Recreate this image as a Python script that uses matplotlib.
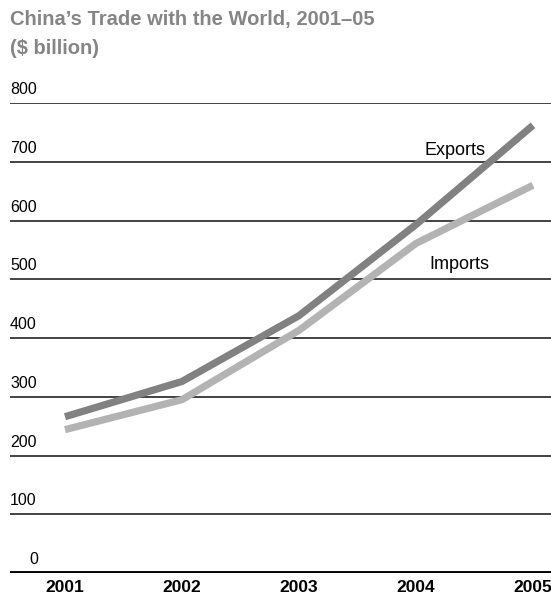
import matplotlib.pyplot as plt
from matplotlib.transforms import blended_transform_factory

years = [2001, 2002, 2003, 2004, 2005]
exports = [266, 326, 438, 593, 762]
imports = [244, 295, 413, 561, 660]
y_ticks = [0, 100, 200, 300, 400, 500, 600, 700, 800]

FONT = ['Liberation Sans Narrow', 'Liberation Sans', 'DejaVu Sans']
plt.rcParams['font.family'] = FONT

fig = plt.figure(figsize=(5.51, 5.95), dpi=100)
ax = fig.add_axes([10 / 551, 22 / 595, 541 / 551, 470 / 595])

ax.set_xlim(2000.53, 2005.154)
ax.set_ylim(0, 800)

for v in y_ticks[1:]:
    ax.axhline(v, color='#222222', lw=1.2, zorder=1)
ax.axhline(0, color='black', lw=2.8, zorder=1)

ax.plot(years, exports, color='#818181', lw=5.2, solid_capstyle='butt', zorder=3)
ax.plot(years, imports, color='#b3b3b3', lw=5.2, solid_capstyle='butt', zorder=3)

trans = blended_transform_factory(ax.transAxes, ax.transData)
for v in y_ticks:
    x = 0.0 if v > 0 else 0.036
    ax.text(x, v + 10, str(v), transform=trans, ha='left', va='bottom',
            fontsize=11.5, color='black')

ax.text(2004.33, 720, 'Exports', fontsize=13, ha='center', va='center')
ax.text(2004.37, 525, 'Imports', fontsize=13, ha='center', va='center')

ax.set_xticks(years)
ax.set_xticklabels([str(y) for y in years], fontsize=12.5, fontweight='bold')
ax.tick_params(axis='x', length=0, pad=5)
ax.set_yticks([])
for s in ax.spines.values():
    s.set_visible(False)

fig.text(10 / 551, 1 - 20 / 595, 'China\u2019s Trade with the World, 2001\u201305',
         fontsize=14.5, fontweight='bold', color='#858585', va='center', ha='left')
fig.text(10 / 551, 1 - 49 / 595, '($ billion)',
         fontsize=14.5, fontweight='bold', color='#858585', va='center', ha='left')

fig.savefig('out.png', dpi=100)
